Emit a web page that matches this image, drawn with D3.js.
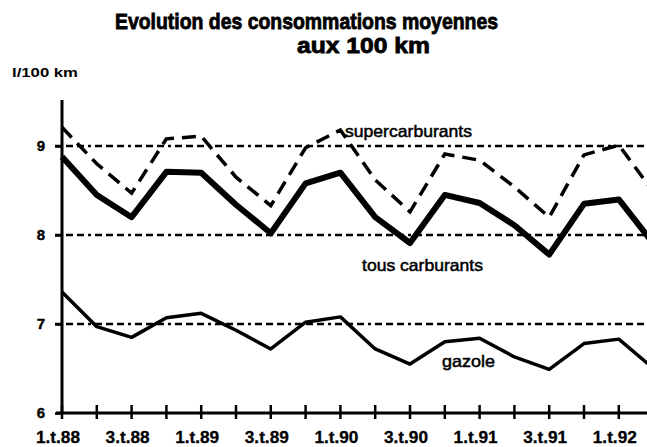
<!DOCTYPE html>
<html>
<head>
<meta charset="utf-8">
<script src="https://cdn.jsdelivr.net/npm/d3@7"></script>
<style>
  body { margin: 0; background: #fff; }
  svg { display: block; font-family: "Liberation Sans", Arial, sans-serif; }
</style>
</head>
<body>
<div id="chart"></div>
<script>
// quarters, 1.t.88 .. 2.t.92
var quarters = ["1.t.88","2.t.88","3.t.88","4.t.88","1.t.89","2.t.89","3.t.89","4.t.89",
                "1.t.90","2.t.90","3.t.90","4.t.90","1.t.91","2.t.91","3.t.91","4.t.91",
                "1.t.92","2.t.92"];
var superValues = [9.21, 8.80, 8.47, 9.08, 9.11, 8.65, 8.33, 8.98, 9.18, 8.62, 8.26, 8.91, 8.84, 8.54, 8.20, 8.90, 9.01, 8.48];
var tousValues  = [8.88, 8.45, 8.20, 8.71, 8.70, 8.34, 8.02, 8.58, 8.70, 8.20, 7.91, 8.45, 8.36, 8.11, 7.78, 8.35, 8.40, 7.90];
var gazoleValues = [7.36, 6.97, 6.85, 7.07, 7.12, 6.93, 6.72, 7.02, 7.08, 6.72, 6.55, 6.80, 6.84, 6.63, 6.49, 6.78, 6.83, 6.50];
var yTicks = [6, 7, 8, 9];
var gridValues = [7, 8, 9];
var xLabels = ["1.t.88","3.t.88","1.t.89","3.t.89","1.t.90","3.t.90","1.t.91","3.t.91","1.t.92"];

var width = 647, height = 447;
var svg = d3.select("#chart").append("svg")
	.attr("width", width).attr("height", height);

var x = d3.scalePoint().domain(quarters).range([62, 62 + 34.8 * 17]);
var y = d3.scaleLinear().domain([6, 9]).range([413, 146]);

// clip at right edge of the page
svg.append("clipPath").attr("id", "clip")
	.append("rect").attr("x", 0).attr("y", 0).attr("width", width).attr("height", height);

var plot = svg.append("g").attr("clip-path", "url(#clip)");

// title (a thin stroke to get the heavy scanned look)
svg.append("text").attr("x", 115).attr("y", 29)
	.attr("font-size", 22).attr("font-weight", "bold")
	.attr("stroke", "#000").attr("stroke-width", 0.8)
	.attr("textLength", 383).attr("lengthAdjust", "spacingAndGlyphs")
	.text("Evolution des consommations moyennes");
svg.append("text").attr("x", 297).attr("y", 53)
	.attr("font-size", 22).attr("font-weight", "bold")
	.attr("stroke", "#000").attr("stroke-width", 0.8)
	.attr("textLength", 133).attr("lengthAdjust", "spacingAndGlyphs")
	.text("aux 100 km");
svg.append("text").attr("x", 12).attr("y", 77)
	.attr("font-size", 13).attr("font-weight", "bold")
	.attr("textLength", 66).attr("lengthAdjust", "spacingAndGlyphs")
	.text("l/100 km");

// dotted grid lines
plot.selectAll(".grid").data(gridValues).enter().append("line")
	.attr("x1", 55).attr("x2", width)
	.attr("y1", function(d) { return y(d); })
	.attr("y2", function(d) { return y(d); })
	.attr("stroke", "#000").attr("stroke-width", 2.6)
	.attr("stroke-dasharray", "7,4,7,4,7,4,3,4");

// y axis
var yAxis = d3.axisLeft(y).tickValues(yTicks).tickSize(7).tickPadding(10).tickFormat(d3.format("d"));
var yg = svg.append("g").attr("transform", "translate(62,0)").call(yAxis);
yg.select(".domain").remove();
yg.selectAll(".tick line").attr("stroke-width", 2.5);
yg.selectAll(".tick text").attr("font-size", 15).attr("font-weight", "bold")
	.attr("font-family", "Liberation Sans, Arial, sans-serif").attr("fill", "#000")
	.attr("stroke", "#000").attr("stroke-width", 0.4);
svg.append("line").attr("x1", 62).attr("x2", 62).attr("y1", 100).attr("y2", 413)
	.attr("stroke", "#000").attr("stroke-width", 3);

// x axis
plot.append("line").attr("x1", 56).attr("x2", width).attr("y1", 413).attr("y2", 413)
	.attr("stroke", "#000").attr("stroke-width", 3);
plot.selectAll(".xtick").data(quarters.slice(0, 17)).enter().append("line")
	.attr("x1", function(d) { return x(d); })
	.attr("x2", function(d) { return x(d); })
	.attr("y1", 405).attr("y2", 419)
	.attr("stroke", "#000").attr("stroke-width", 2.5);
svg.selectAll(".xlabel").data(xLabels).enter().append("text")
	.attr("x", function(d) { return x(d) - 4; })
	.attr("y", 443)
	.attr("text-anchor", "middle")
	.attr("font-size", 16).attr("font-weight", "bold")
	.attr("stroke", "#000").attr("stroke-width", 0.3)
	.attr("textLength", 44).attr("lengthAdjust", "spacingAndGlyphs")
	.text(function(d) { return d; });

var line = d3.line()
	.x(function(d, i) { return x(quarters[i]); })
	.y(function(d) { return y(d); });

plot.append("path").datum(gazoleValues)
	.attr("d", line).attr("fill", "none").attr("stroke", "#000")
	.attr("stroke-width", 3.5).attr("stroke-linejoin", "round");

plot.append("path").datum(tousValues)
	.attr("d", line).attr("fill", "none").attr("stroke", "#000")
	.attr("stroke-width", 6).attr("stroke-linejoin", "round");

plot.append("path").datum(superValues)
	.attr("d", line).attr("fill", "none").attr("stroke", "#000")
	.attr("stroke-width", 3.5).attr("stroke-dasharray", "14,8");

// series labels
svg.append("text").attr("x", 345).attr("y", 137).attr("font-size", 16.5)
	.attr("stroke", "#000").attr("stroke-width", 0.5)
	.attr("textLength", 127).attr("lengthAdjust", "spacingAndGlyphs")
	.text("supercarburants");
svg.append("text").attr("x", 362).attr("y", 271).attr("font-size", 16.5)
	.attr("stroke", "#000").attr("stroke-width", 0.5)
	.attr("textLength", 121).attr("lengthAdjust", "spacingAndGlyphs")
	.text("tous carburants");
svg.append("text").attr("x", 442).attr("y", 367).attr("font-size", 16.5)
	.attr("stroke", "#000").attr("stroke-width", 0.5)
	.attr("textLength", 53).attr("lengthAdjust", "spacingAndGlyphs")
	.text("gazole");
</script>
</body>
</html>
